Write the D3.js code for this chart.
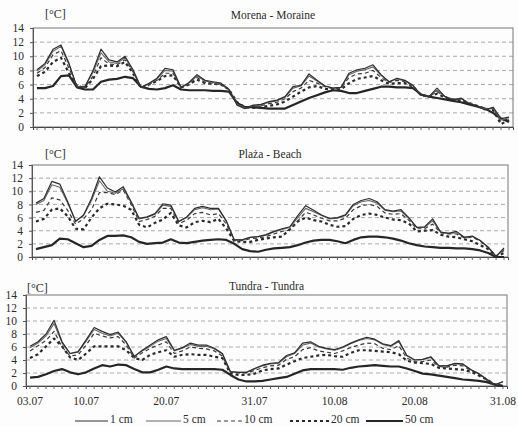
<!DOCTYPE html>
<html>
<head>
<meta charset="utf-8">
<script src="https://cdn.jsdelivr.net/npm/d3@7"></script>
<style>
  body { margin: 0; background: #fff; }
  svg { display: block; }
</style>
</head>
<body>
<div id="chart"></div>
<script>
// days 03.07 - 31.08
var dayLabels = d3.timeDay.range(new Date(2000, 6, 3), new Date(2000, 8, 1)).map(d3.timeFormat("%d.%m"));
var tickLabels = ["03.07", "10.07", "20.07", "31.07", "10.08", "20.08", "31.08"];
var yTicks = [0, 2, 4, 6, 8, 10, 12, 14];
var depths = ["1 cm", "5 cm", "10 cm", "20 cm", "50 cm"];

var morena1 = [8.1, 9.0, 11.0, 11.6, 9.0, 5.6, 5.7, 8.0, 11.0, 9.5,
  9.2, 10.0, 8.1, 5.6, 6.2, 6.9, 8.3, 8.1, 5.6, 6.3,
  7.4, 6.6, 6.4, 6.2, 5.3, 3.1, 2.6, 3.1, 3.2, 3.6,
  3.8, 4.3, 5.7, 5.9, 7.5, 6.6, 5.8, 5.5, 5.6, 7.6,
  8.1, 8.3, 8.8, 7.4, 6.4, 6.9, 6.6, 5.9, 4.5, 4.3,
  5.5, 4.3, 3.8, 4.1, 3.3, 3.0, 2.4, 2.8, 1.2, 1.4];
var morena5 = [7.9, 8.8, 10.7, 11.4, 8.8, 5.7, 5.8, 7.7, 10.5, 9.2,
  9.0, 9.8, 8.0, 5.6, 6.1, 6.8, 8.0, 7.9, 5.6, 6.2,
  7.2, 6.5, 6.3, 6.1, 5.3, 3.2, 2.7, 3.0, 3.1, 3.5,
  3.7, 4.2, 5.5, 5.8, 7.2, 6.5, 5.8, 5.5, 5.6, 7.4,
  7.9, 8.1, 8.5, 7.3, 6.4, 6.8, 6.5, 5.8, 4.5, 4.3,
  5.2, 4.3, 3.9, 4.0, 3.4, 3.0, 2.5, 2.7, 1.0, 1.3];
var morena10 = [7.6, 8.4, 10.2, 10.8, 8.3, 5.8, 5.6, 7.2, 9.8, 8.9,
  8.8, 9.5, 7.8, 5.6, 6.0, 6.6, 7.6, 7.6, 5.6, 6.1,
  7.0, 6.3, 6.2, 6.0, 5.3, 3.3, 2.8, 2.9, 3.0, 3.3,
  3.5, 4.0, 5.0, 5.5, 6.6, 6.2, 5.7, 5.4, 5.5, 7.0,
  7.5, 7.6, 8.0, 7.0, 6.3, 6.6, 6.4, 5.8, 4.5, 4.3,
  5.0, 4.3, 3.9, 3.9, 3.4, 3.0, 2.6, 2.6, 0.8, 1.2];
var morena20 = [7.2, 7.8, 9.2, 9.8, 7.6, 5.8, 5.5, 6.8, 8.6, 8.7,
  8.6, 9.2, 7.6, 5.5, 6.0, 6.5, 7.2, 7.3, 5.6, 6.0,
  6.7, 6.2, 6.1, 6.0, 5.3, 3.5, 2.8, 2.7, 2.8, 3.0,
  3.2, 3.6, 4.3, 5.0, 5.6, 5.8, 5.4, 5.3, 5.3, 6.2,
  6.8, 7.0, 7.2, 6.6, 6.1, 6.2, 6.2, 5.7, 4.5, 4.3,
  4.7, 4.2, 3.9, 3.8, 3.4, 3.0, 2.6, 2.4, 0.4, 1.0];
var morena50 = [5.5, 5.5, 5.8, 7.2, 7.3, 5.6, 5.3, 5.3, 6.4, 6.7,
  6.8, 7.1, 6.9, 5.7, 5.4, 5.3, 5.5, 5.9, 5.3, 5.2,
  5.2, 5.2, 5.1, 5.1, 5.0, 3.4, 2.8, 2.8, 2.7, 2.6,
  2.6, 2.6, 3.1, 3.6, 4.1, 4.5, 4.9, 5.2, 5.1, 4.8,
  4.8, 5.1, 5.4, 5.7, 5.7, 5.6, 5.6, 5.5, 4.6, 4.3,
  4.1, 3.9, 3.7, 3.5, 3.2, 2.9, 2.6, 2.0, 1.2, 0.7];

var plaza1 = [8.2, 8.9, 11.5, 11.1, 8.4, 5.4, 6.4, 8.9, 12.2, 10.5,
  9.9, 10.7, 8.4, 5.9, 6.1, 6.6, 8.1, 7.9, 5.4, 6.1,
  7.4, 7.7, 7.4, 7.4, 5.5, 2.6, 2.6, 3.0, 3.1, 3.4,
  3.9, 4.3, 4.6, 6.3, 7.8, 7.1, 6.4, 5.9, 6.0, 6.4,
  8.0, 8.6, 8.9, 8.4, 7.2, 7.0, 7.2, 6.0, 4.5, 4.6,
  5.8, 3.8, 3.6, 3.9, 3.0, 3.2, 2.5, 1.5, 0.1, 1.4];
var plaza5 = [8.0, 8.6, 11.0, 10.6, 8.2, 5.5, 6.3, 8.6, 11.6, 10.0,
  9.7, 10.4, 8.3, 5.8, 6.0, 6.5, 7.9, 7.7, 5.4, 6.0,
  7.2, 7.5, 7.2, 7.3, 5.4, 2.6, 2.6, 3.0, 3.1, 3.3,
  3.8, 4.2, 4.5, 6.0, 7.4, 6.9, 6.3, 5.8, 5.9, 6.3,
  7.8, 8.4, 8.6, 8.2, 7.1, 6.9, 7.0, 5.9, 4.5, 4.5,
  5.5, 3.8, 3.6, 3.7, 3.0, 3.1, 2.5, 1.5, 0.1, 1.2];
var plaza10 = [6.8, 7.1, 9.0, 8.7, 7.1, 5.0, 5.8, 7.2, 9.8, 9.8,
  9.5, 10.2, 8.0, 5.4, 5.7, 6.2, 7.4, 7.4, 5.1, 5.6,
  6.6, 6.8, 6.4, 6.6, 5.0, 2.5, 2.5, 2.8, 2.9, 3.1,
  3.5, 3.9, 4.1, 5.5, 6.8, 6.4, 5.9, 5.5, 5.5, 5.9,
  7.2, 7.8, 8.0, 7.7, 6.7, 6.5, 6.6, 5.6, 4.3, 4.3,
  5.0, 3.7, 3.5, 3.5, 2.9, 3.0, 2.4, 1.4, 0.1, 1.0];
var plaza20 = [5.4, 5.8, 7.2, 7.4, 6.2, 4.3, 4.2, 6.0, 7.4, 8.1,
  8.0, 7.8, 7.2, 4.9, 4.5, 5.2, 5.7, 6.7, 4.8, 4.5,
  5.3, 5.5, 5.3, 5.8, 4.3, 2.4, 2.3, 2.3, 2.6, 2.8,
  3.0, 3.1, 4.2, 5.4, 6.0, 5.6, 5.4, 4.9, 4.6, 4.7,
  5.8, 6.4, 6.6, 6.4, 6.0, 5.7, 5.6, 5.1, 3.9, 4.0,
  4.1, 3.4, 3.1, 3.0, 2.7, 2.4, 1.8, 1.2, 0.1, 0.6];
var plaza50 = [1.2, 1.5, 1.8, 2.8, 2.7, 2.1, 1.5, 1.7, 2.6, 3.2,
  3.2, 3.3, 3.0, 2.3, 2.0, 2.1, 2.2, 2.7, 2.2, 2.1,
  2.3, 2.5, 2.6, 2.7, 2.6, 2.0, 1.2, 0.9, 0.8, 1.1,
  1.3, 1.4, 1.5, 1.8, 2.2, 2.5, 2.6, 2.6, 2.4, 2.1,
  2.6, 3.0, 3.1, 3.1, 3.0, 2.8, 2.5, 2.1, 1.8, 1.6,
  1.5, 1.4, 1.4, 1.3, 1.3, 1.2, 1.0, 0.6, 0.0, 0.0];

var tundra1 = [6.1, 6.8, 8.0, 10.1, 6.8, 5.0, 5.3, 7.1, 9.0, 8.4,
  7.9, 8.3, 6.8, 4.5, 5.5, 6.3, 7.1, 7.6, 5.5, 5.9,
  6.6, 6.3, 6.3, 5.8, 5.0, 2.2, 2.1, 2.1, 2.7, 3.2,
  3.5, 3.6, 4.7, 5.1, 6.6, 6.8, 6.1, 5.8, 5.6, 6.0,
  6.6, 7.1, 7.5, 7.2, 6.5, 6.2, 7.0, 4.7, 4.0, 4.1,
  4.5, 3.1, 3.1, 3.5, 3.4, 2.5, 1.9, 1.0, 0.2, 0.7];
var tundra5 = [5.9, 6.6, 7.7, 9.6, 6.6, 5.0, 5.2, 6.9, 8.7, 8.1,
  7.7, 8.1, 6.7, 4.6, 5.4, 6.1, 6.9, 7.3, 5.4, 5.8,
  6.4, 6.1, 6.1, 5.7, 4.9, 2.2, 2.1, 2.1, 2.6, 3.1,
  3.4, 3.5, 4.5, 5.0, 6.3, 6.6, 6.0, 5.7, 5.5, 5.9,
  6.5, 7.0, 7.3, 7.1, 6.4, 6.1, 6.8, 4.7, 4.0, 4.1,
  4.4, 3.1, 3.1, 3.4, 3.3, 2.5, 1.9, 1.0, 0.2, 0.6];
var tundra10 = [5.4, 6.2, 7.0, 8.4, 6.0, 4.6, 4.8, 6.3, 8.1, 7.7,
  7.4, 7.6, 6.3, 4.3, 5.1, 5.8, 6.3, 6.8, 5.0, 5.4,
  6.0, 5.8, 5.7, 5.4, 4.6, 2.1, 2.0, 2.0, 2.4, 2.8,
  3.1, 3.2, 4.1, 4.5, 5.6, 5.9, 5.4, 5.2, 5.0, 5.4,
  5.9, 6.3, 6.6, 6.5, 5.8, 5.6, 6.2, 4.3, 3.7, 3.8,
  4.0, 3.0, 2.9, 3.2, 3.1, 2.4, 1.8, 0.9, 0.1, 0.4];
var tundra20 = [4.3, 4.9, 6.1, 7.3, 6.1, 4.4, 4.0, 5.0, 6.1, 6.1,
  6.1, 6.1, 5.5, 4.3, 4.0, 4.8, 5.2, 5.5, 4.5, 4.8,
  4.9, 4.8, 4.8, 4.5, 4.3, 1.9, 1.7, 1.7, 1.9, 2.4,
  2.6, 2.7, 3.3, 3.8, 4.3, 4.5, 4.7, 4.8, 4.6, 4.5,
  5.1, 5.5, 5.5, 5.4, 5.3, 5.2, 4.9, 3.9, 3.6, 3.5,
  3.4, 2.8, 2.7, 2.6, 2.5, 2.2, 1.6, 1.0, 0.2, 0.0];
var tundra50 = [1.3, 1.4, 1.8, 2.3, 2.6, 2.1, 1.8, 2.1, 2.7, 3.2,
  3.0, 3.3, 3.2, 2.6, 2.1, 2.1, 2.5, 3.0, 2.7, 2.6,
  2.6, 2.6, 2.6, 2.6, 2.5, 1.7, 1.0, 0.7, 0.7, 0.8,
  1.0, 1.2, 1.4, 1.9, 2.4, 2.6, 2.6, 2.6, 2.6, 2.5,
  2.8, 3.0, 3.1, 3.2, 3.1, 3.0, 3.0, 2.7, 2.3, 1.9,
  1.8, 1.6, 1.4, 1.2, 1.0, 0.9, 0.8, 0.6, 0.2, 0.0];

var width = 518, height = 427;
var fontFam = "'Liberation Serif', 'Times New Roman', serif";
var textColor = "#2b2b2b";

// line look per depth
var lineWidth = [1.2, 1.1, 1.2, 2.2, 2.2];
var lineDash = [null, null, "4,3", "3,3", null];
var lineColor = ["#2e2e2e", "#666", "#3a3a3a", "#2a2a2a", "#262626"];

var panels = [
  { title: "Morena - Moraine", series: [morena1, morena5, morena10, morena20, morena50],
    left: 33, right: 513, top: 28, bottom: 127, titleY: 19, unitX: 45, unitY: 18 },
  { title: "Plaża - Beach", series: [plaza1, plaza5, plaza10, plaza20, plaza50],
    left: 32, right: 508, top: 165, bottom: 257, titleY: 158, unitX: 45, unitY: 158 },
  { title: "Tundra - Tundra", series: [tundra1, tundra5, tundra10, tundra20, tundra50],
    left: 26, right: 507, top: 295, bottom: 386, titleY: 290, unitX: 27, unitY: 292, showDates: true }
];

var svg = d3.select("#chart").append("svg")
  .attr("width", width)
  .attr("height", height);

svg.append("rect")
  .attr("width", width)
  .attr("height", height)
  .attr("fill", "#fdfdfd");

panels.forEach(function(p) {
  var x = d3.scaleBand()
    .domain(dayLabels)
    .range([p.left, p.right]);
  var y = d3.scaleLinear()
    .domain([0, 14])
    .range([p.bottom, p.top]);

  var g = svg.append("g");

  // gridlines
  g.selectAll(".grid")
    .data(yTicks.filter(function(t) { return t > 0 && t < 14; }))
    .enter().append("line")
    .attr("x1", p.left)
    .attr("x2", p.right)
    .attr("y1", function(d) { return y(d); })
    .attr("y2", function(d) { return y(d); })
    .attr("stroke", "#a0a0a0")
    .attr("stroke-width", 0.9)
    .attr("stroke-dasharray", "4,3");

  // frame
  g.append("rect")
    .attr("x", p.left)
    .attr("y", p.top)
    .attr("width", p.right - p.left)
    .attr("height", p.bottom - p.top)
    .attr("fill", "none")
    .attr("stroke", "#777")
    .attr("stroke-width", 1);

  // y axis
  g.append("g")
    .attr("transform", "translate(" + p.left + ",0)")
    .call(d3.axisLeft(y).tickValues(yTicks).tickSize(3).tickPadding(6))
    .call(function(a) {
      a.select(".domain").attr("stroke", "#555");
      a.selectAll(".tick line").attr("stroke", "#555");
      a.selectAll("text")
        .style("font-family", fontFam)
        .style("font-size", "11.5px")
        .attr("fill", textColor);
    });

  // x axis, tick every day
  g.append("g")
    .attr("transform", "translate(0," + p.bottom + ")")
    .call(d3.axisBottom(x).tickSize(3).tickFormat(""))
    .call(function(a) {
      a.select(".domain").attr("stroke", "#444");
      a.selectAll(".tick line").attr("stroke", "#666");
    });

  if (p.showDates) {
    g.append("g")
      .attr("transform", "translate(0," + p.bottom + ")")
      .call(d3.axisBottom(x).tickValues(tickLabels).tickSize(0).tickPadding(11))
      .call(function(a) {
        a.select(".domain").remove();
        a.selectAll("text")
          .style("font-family", fontFam)
          .style("font-size", "11.5px")
          .attr("fill", textColor);
      });
  }

  var line = d3.line()
    .x(function(d, i) { return x(dayLabels[i]) + x.bandwidth() / 2; })
    .y(function(d) { return y(d); });

  // draw deepest first so the surface lines sit on top
  [4, 3, 2, 1, 0].forEach(function(k) {
    g.append("path")
      .datum(p.series[k])
      .attr("d", line)
      .attr("fill", "none")
      .attr("stroke", lineColor[k])
      .attr("stroke-width", lineWidth[k])
      .attr("stroke-dasharray", lineDash[k])
      .attr("stroke-linejoin", "round");
  });

  svg.append("text")
    .attr("x", (p.left + p.right) / 2)
    .attr("y", p.titleY)
    .attr("text-anchor", "middle")
    .text(p.title)
    .style("font-family", fontFam)
    .style("font-size", "11.5px")
    .attr("fill", textColor);

  svg.append("text")
    .attr("x", p.unitX)
    .attr("y", p.unitY)
    .text("[°C]")
    .style("font-family", fontFam)
    .style("font-size", "12px")
    .attr("fill", textColor);
});

// legend
var legendX = [75, 146, 217, 290, 366];
var legendLen = [33, 35, 25, 39, 37];
depths.forEach(function(d, i) {
  svg.append("line")
    .attr("x1", legendX[i])
    .attr("x2", legendX[i] + legendLen[i])
    .attr("y1", 421)
    .attr("y2", 421)
    .attr("stroke", lineColor[i])
    .attr("stroke-width", lineWidth[i])
    .attr("stroke-dasharray", lineDash[i]);
  svg.append("text")
    .attr("x", legendX[i] + legendLen[i] + 2)
    .attr("y", 423)
    .text(d)
    .style("font-family", fontFam)
    .style("font-size", "11.5px")
    .attr("fill", textColor);
});
</script>
</body>
</html>
